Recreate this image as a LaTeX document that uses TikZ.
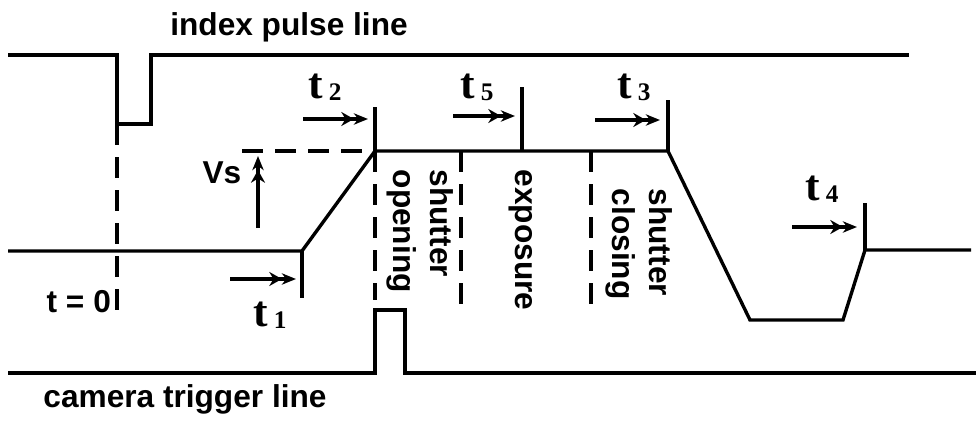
\documentclass[tikz,border=0pt]{standalone}
\usepackage{fontspec}
\setmainfont{Liberation Sans}
\newfontfamily\tfont{Liberation Serif}
\usetikzlibrary{arrows.meta}
% etiqueta de tiempo t_i
\newcommand{\tiempo}[1]{{\tfont\bfseries\fontsize{31}{31}\selectfont t}\hspace{4pt}{\tfont\bfseries\fontsize{18}{18}\selectfont\raisebox{-2pt}{#1}}}

\begin{document}
\begin{tikzpicture}[x=0.025cm, y=-0.025cm, line width=2.4pt,
  discontinua/.style={dash pattern=on 15pt off 8.5pt},
  flecha/.style={-{Stealth[length=9pt,width=10pt,inset=3pt]Stealth[length=10pt,width=8pt,inset=3pt]}, line width=2.6pt},
  texto/.style={font=\bfseries\fontsize{22.5}{26}\selectfont, inner sep=0pt},
  giro/.style={texto, rotate=-90, anchor=west, align=left}]
  \useasboundingbox (0,0) rectangle (976,422);

  % Linea de pulso indice
  \draw (8,55) -- (117,55) -- (117,124) -- (151,124) -- (151,55) -- (909,55);
  \node[texto, anchor=base] (indice) at (289,35) {index pulse line};

  % Senal principal
  \coordinate (a) at (302,251);
  \coordinate (b) at (375,151);
  \coordinate (c) at (668,151);
  \coordinate (d) at (865,250);
  \draw (8,251) -- (a) -- (b) -- (c) -- (750,320) -- (843,320) -- (d) -- (971,250);

  % Linea de disparo de camara
  \draw (8,373) -- (375,373) -- (375,310) -- (405,310) -- (405,373) -- (976,373);
  \node[texto, anchor=base] (camara) at (185,407) {camera trigger line};

  % Marcas verticales
  \draw (a) -- ++(0,47) coordinate (a1);
  \draw (b) -- ++(0,-44) coordinate (b1);
  \draw (522,151) coordinate (e) -- ++(0,-64) coordinate (e1);
  \draw (c) -- ++(0,-51) coordinate (c1);
  \draw (d) -- ++(0,-47) coordinate (d1);

  % Lineas discontinuas
  \draw[discontinua] (117,124) -- (117,320);
  \draw[discontinua] (242,151) -- (b);
  \draw[discontinua] (b) -- (375,300);
  \draw[discontinua] (461,151) -- (461,313);
  \draw[discontinua] (591,151) -- (591,316);

  % Flechas de tiempo
  \draw[flecha] (230,279) -- (296,279);
  \draw[flecha] (303,119) -- (368,119);
  \draw[flecha] (453,116) -- (515,116);
  \draw[flecha] (595,120) -- (660,120);
  \draw[flecha] (792,227) -- (857,227);
  \draw[flecha] (258,228) -- (258,156);

  % Etiquetas
  \node[anchor=base west, inner sep=0pt] (t1) at (252,326) {\tiempo{1}};
  \node[anchor=base west, inner sep=0pt] (t2) at (307,98) {\tiempo{2}};
  \node[anchor=base west, inner sep=0pt] (t5) at (459,98) {\tiempo{5}};
  \node[anchor=base west, inner sep=0pt] (t3) at (616,98) {\tiempo{3}};
  \node[anchor=base west, inner sep=0pt] (t4) at (804,200) {\tiempo{4}};
  \node[texto, anchor=base west] (cero) at (45,312) {t = 0};
  \node[texto, anchor=base east] (vs) at (243,183) {Vs};

  % Fases del obturador
  \node[giro] (apertura) at (420,168) {shutter\\opening};
  \node[giro] (exposicion) at (521,168) {exposure};
  \node[giro] (cierre) at (639,187) {shutter\\closing};
\end{tikzpicture}
\end{document}
